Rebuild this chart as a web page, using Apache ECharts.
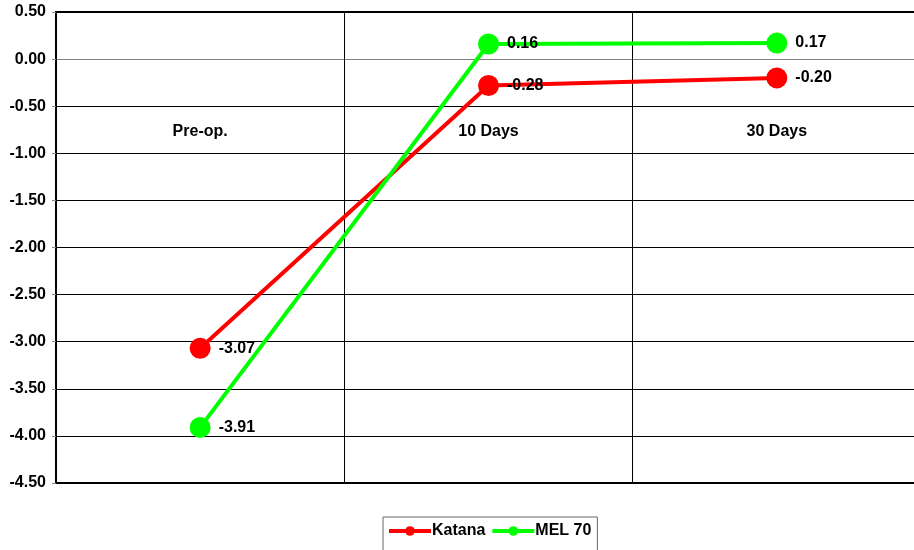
<!DOCTYPE html>
<html>
<head>
<meta charset="utf-8">
<script src="https://cdn.jsdelivr.net/npm/echarts@6/dist/echarts.min.js"></script>
<style>
  html, body { margin: 0; padding: 0; background: #fff; }
  #chart { width: 914px; height: 550px; }
</style>
</head>
<body>
<div id="chart"></div>
<script>
const categories = ['Pre-op.', '10 Days', '30 Days'];
const katana = [-3.07, -0.28, -0.20];
const mel70 = [-3.91, 0.16, 0.17];
const yTicks = [-4.5, -4, -3.5, -3, -2.5, -2, -1.5, -1, -0.5, 0, 0.5];

const font = '"Liberation Sans", Arial, sans-serif';
const chart = echarts.init(document.getElementById('chart'));

const labelStyle = {
    show: true,
    position: 'right',
    distance: 8,
    color: '#000',
    fontSize: 16,
    fontWeight: 'bold',
    fontFamily: font,
    formatter: (p) => p.value.toFixed(2),
};

chart.setOption({
    animation: false,
    textStyle: { fontFamily: font },
    grid: {
        left: 56, right: -7, top: 12, bottom: 67,
        outerBoundsMode: 'none',
        show: true,
        borderColor: '#000',
        borderWidth: 2,
    },
    legend: {
        top: 517,
        left: 383,
        itemWidth: 42,
        itemHeight: 12,
        itemGap: 5,
        padding: [6, 6, 12, 4],
        borderColor: '#666',
        borderWidth: 1,
        lineStyle: { width: 4 },
        textStyle: { fontSize: 16, fontWeight: 'bold', color: '#000', padding: [0, 0, 0, -4] },
        data: ['Katana', 'MEL 70'],
    },
    xAxis: {
        type: 'category',
        data: categories,
        position: 'top',
        boundaryGap: true,
        axisLine: { show: false },
        axisTick: { show: false },
        axisLabel: { inside: true, margin: 112, fontSize: 16, fontWeight: 'bold', color: '#000' },
        splitLine: { show: true, lineStyle: { color: '#000', width: 1 } },
    },
    yAxis: {
        type: 'value',
        min: yTicks[0],
        max: yTicks[yTicks.length - 1],
        interval: 0.5,
        axisLine: { show: true, lineStyle: { color: '#000', width: 1.5 } },
        axisTick: { show: true, length: 4, lineStyle: { color: '#888' } },
        axisLabel: {
            margin: 10,
            fontSize: 16,
            fontWeight: 'bold',
            color: '#000',
            formatter: (v) => v.toFixed(2),
        },
        splitLine: {
            show: true,
            lineStyle: { color: yTicks.map((t) => (t === 0 ? '#808080' : '#000')), width: 1.2 },
        },
    },
    series: [
        {
            name: 'Katana',
            type: 'line',
            data: katana,
            symbol: 'circle',
            symbolSize: 21,
            itemStyle: { color: '#ff0000' },
            lineStyle: { color: '#ff0000', width: 4 },
            label: labelStyle,
        },
        {
            name: 'MEL 70',
            type: 'line',
            data: mel70,
            symbol: 'circle',
            symbolSize: 21,
            itemStyle: { color: '#00ff00' },
            lineStyle: { color: '#00ff00', width: 4 },
            label: labelStyle,
        },
    ],
});

window.addEventListener('resize', chart.resize);
</script>
</body>
</html>
